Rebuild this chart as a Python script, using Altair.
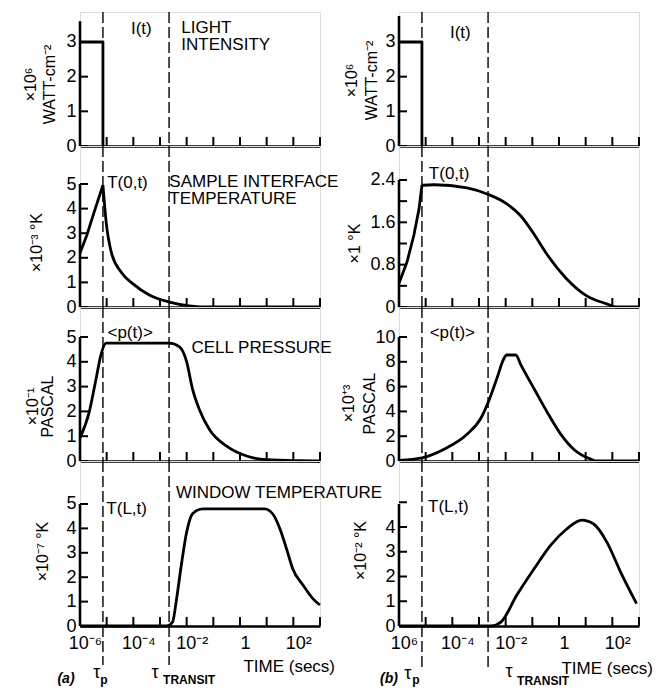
import altair as alt
import pandas as pd

FONT = "Liberation Sans"

# ---------------- shared time axis: log10(time / s) ----------------
decade_exps = [-6, -5, -4, -3, -2, -1, 0, 1, 2, 3]
xlabel_exps = [-6, -4, -2, 0, 2]
xlabel_text_a = ["10⁻⁶", "10⁻⁴", "10⁻²", "1", "10²"]
xlabel_text_b = ["10⁶", "10⁻⁴", "10⁻²", "1", "10²"]
tau_p_exp = -5.14
tau_transit_exp = -2.66

# ---------------- column (a) ----------------
a_I_exp = [-6.0, -5.14, -5.14]
a_I_val = [3.0, 3.0, 0.0]

a_T0_rise_exp = [-6.0, -5.74, -5.47, -5.14]
a_T0_rise_val = [2.2, 2.93, 3.86, 4.95]
a_T0_fall_exp = [-5.14, -5.02, -4.83, -4.46, -4.0, -3.4, -2.65, -1.9, -1.14, 3.0]
a_T0_fall_val = [4.95, 3.46, 2.24, 1.42, 0.93, 0.49, 0.2, 0.05, 0.0, 0.0]

a_p_exp = [-6.0, -5.66, -5.40, -5.21, -5.02, -3.78, -2.65, -2.27, -2.0, -1.78,
           -1.52, -1.14, -0.5, 0.25, 1.0, 2.25, 3.0]
a_p_val = [0.93, 1.95, 3.3, 4.3, 4.75, 4.75, 4.75, 4.6, 4.0, 2.9,
           2.07, 1.26, 0.6, 0.2, 0.05, 0.01, 0.0]

a_TL_exp = [-6.0, -2.76, -2.53, -2.38, -2.2, -2.0, -1.78, -1.40, 0.93, 1.23,
            1.50, 1.76, 1.98, 2.36, 2.74, 3.0]
a_TL_val = [0.0, 0.0, 0.16, 1.1, 2.5, 3.85, 4.6, 4.8, 4.8, 4.59,
            3.98, 3.11, 2.34, 1.68, 1.11, 0.86]

# ---------------- column (b) ----------------
b_I_exp = [-6.0, -5.14, -5.14]
b_I_val = [3.0, 3.0, 0.0]

b_T0_rise_exp = [-6.0, -5.7, -5.44, -5.25, -5.14]
b_T0_rise_val = [0.45, 0.85, 1.36, 1.85, 2.3]
b_T0_fall_exp = [-5.14, -4.69, -3.45, -2.67, -1.96, -1.43, -0.94, -0.46, 0.29,
                 1.04, 1.79, 2.16, 3.0]
b_T0_fall_val = [2.3, 2.31, 2.25, 2.13, 1.95, 1.72, 1.38, 1.0, 0.53,
                 0.21, 0.06, 0.0, 0.0]

b_p_exp = [-6.0, -5.14, -4.31, -3.45, -2.93, -2.67, -2.33, -2.07, -1.96, -1.62,
           -1.43, -0.94, -0.46, 0.07, 0.55, 1.19, 1.42, 3.0]
b_p_val = [0.05, 0.25, 0.95, 2.15, 3.45, 4.65, 6.65, 8.25, 8.55, 8.55,
           7.75, 5.85, 4.0, 2.15, 0.95, 0.15, 0.0, 0.0]

b_TL_exp = [-6.0, -2.55, -2.18, -1.58, -0.94, -0.31, 0.29, 0.85, 1.30, 1.79,
            2.31, 2.91]
b_TL_val = [0.0, 0.0, 0.16, 1.25, 2.3, 3.27, 3.92, 4.28, 4.12, 3.4,
            2.18, 0.9]

# ---------------- y axes: label values, tick values ----------------
y_labels_I = [0, 1, 2, 3]
y_ticks_I = [0, 1, 2, 3]
y_labels_5 = [0, 1, 2, 3, 4, 5]
y_labels_b_T0 = [0, 0.8, 1.6, 2.4]
y_ticks_b_T0 = [0, 0.4, 0.8, 1.2, 1.6, 2.0, 2.4]
y_labels_b_p = [0, 2, 4, 6, 8, 10]
y_labels_b_TL = [0, 1, 2, 3, 4]
y_ticks_b_TL = [0, 1, 2, 3, 4, 5]

# ---------------- layout (style) ----------------
W = 240
ROW_H = [134, 161, 154, 165]
BLACK = "black"


def secs(exps):
    return [10.0 ** e for e in exps]


def x_label_expr(texts):
    parts = [f"round(log(datum.value)/LN10) == {e} ? '{s}'" for e, s in zip(xlabel_exps, texts)]
    return " : ".join(parts) + " : ''"


def panel(h, ymax, axis_top, label_vals, tick_vals, title, title_x, title_y,
          curves, notes, bottom=None, label_expr=None, dash_bottom=None, title_lh=18):
    xs = alt.Scale(type="log", domain=[1e-6, 1e3], nice=False)
    ys = alt.Scale(domain=[0, ymax], nice=False, zero=False)
    common_x = dict(ticks=False, tickSize=0, grid=False, domain=True, domainWidth=2.6,
                    domainColor=BLACK, title=None)
    if bottom is not None:
        x_axis = alt.Axis(values=secs(xlabel_exps), labelExpr=x_label_expr(bottom["xlabels"]),
                          labelFontSize=18, labelFont=FONT, labelColor=BLACK, labelPadding=8,
                          labelOffset=5, labelFlush=False, labelOverlap=False, **common_x)
    else:
        x_axis = alt.Axis(labels=False, **common_x)
    y_kw = dict(values=label_vals, ticks=False, tickSize=0, domain=False, grid=False,
                labelFontSize=18, labelFont=FONT, labelColor=BLACK, labelPadding=4,
                labelFlush=False, labelOverlap=False,
                title=title, titleX=title_x, titleY=title_y, titleAngle=270,
                titleBaseline="middle", titleAlign="center", titleFontSize=16,
                titleFont=FONT, titleFontWeight="normal", titleColor=BLACK,
                titleLineHeight=title_lh)
    if label_expr:
        y_kw["labelExpr"] = label_expr
    y_axis = alt.Axis(**y_kw)
    X = alt.X("t:Q", scale=xs, axis=x_axis)
    Y = alt.Y("v:Q", scale=ys, axis=y_axis)

    layers = []
    for exps, vals, interp in curves:
        df = pd.DataFrame({"t": secs(exps), "v": vals})
        layers.append(alt.Chart(df).mark_line(interpolate=interp, color=BLACK, strokeWidth=2.8,
                                              strokeJoin="round").encode(x=X, y=Y))
    # y axis line
    layers.append(alt.Chart(pd.DataFrame({"v": [0.0], "v2": [axis_top]})).mark_rule(
        color=BLACK, strokeWidth=2.6).encode(x=alt.value(0), y=Y, y2="v2:Q"))
    # inward y ticks
    layers.append(alt.Chart(pd.DataFrame({"v": tick_vals})).mark_tick(
        color=BLACK, orient="horizontal", size=8, thickness=2, opacity=1).encode(
        y=Y, x=alt.value(4)))
    # inward x ticks
    layers.append(alt.Chart(pd.DataFrame({"t": secs(decade_exps)})).mark_tick(
        color=BLACK, orient="vertical", size=9, thickness=2, opacity=1).encode(
        x=X, y=alt.value(h - 4.5)))
    # dashed time markers
    db = h if dash_bottom is None else dash_bottom
    layers.append(alt.Chart(pd.DataFrame({"t": secs([tau_p_exp, tau_transit_exp])})).mark_rule(
        color=BLACK, strokeWidth=1.4, strokeDash=[11, 4]).encode(
        x=X, y=alt.value(0), y2=alt.value(db)))
    # annotations in data coordinates
    for align in ["center", "left"]:
        rows = [n for n in notes if n[3] == align]
        if rows:
            df = pd.DataFrame({"t": secs([r[0] for r in rows]), "v": [r[1] for r in rows],
                               "label": [r[2] for r in rows]})
            layers.append(alt.Chart(df).mark_text(align=align, baseline="middle", fontSize=17,
                                                  font=FONT, color=BLACK).encode(
                x=X, y=Y, text="label:N"))
    if bottom is not None:
        df = pd.DataFrame({"label": [bottom["tag"]]})
        layers.append(alt.Chart(df).mark_text(align="center", baseline="middle", fontSize=14,
                                              fontWeight="bold", fontStyle="italic", font=FONT,
                                              color=BLACK).encode(
            x=alt.value(bottom["tag_x"]), y=alt.value(h + 53), text="label:N"))
        df = pd.DataFrame({"label": ["TIME (secs)"]})
        layers.append(alt.Chart(df).mark_text(align="right", baseline="middle", fontSize=17,
                                              font=FONT, color=BLACK).encode(
            x=alt.value(bottom["time_x"]), y=alt.value(h + bottom["time_dy"]), text="label:N"))
        for exp, dx, dy, txt, size, weight, align in bottom["taus"]:
            df = pd.DataFrame({"t": secs([exp]), "label": [txt]})
            layers.append(alt.Chart(df).mark_text(align=align, baseline="middle", fontSize=size,
                                                  fontWeight=weight, font=FONT, color=BLACK,
                                                  dx=dx).encode(
                x=X, y=alt.value(h + dy), text="label:N"))
    return alt.layer(*layers).properties(width=W, height=h)


# ---------------- column (a) panels ----------------
pa1 = panel(ROW_H[0], 3.865, 3.6, y_labels_I, y_ticks_I, ["×10⁶", "WATT-cm⁻²"], -50, 72,
            [(a_I_exp, a_I_val, "linear")],
            [(-3.7, 3.37, "I(t)", "center"), (-2.2, 3.4, "LIGHT", "left"),
             (-2.2, 2.91, "INTENSITY", "left")], title_lh=19)
pa2 = panel(ROW_H[1], 6.545, 5, y_labels_5, y_labels_5, "×10⁻³ °K", -44, 96,
            [(a_T0_rise_exp, a_T0_rise_val, "linear"), (a_T0_fall_exp, a_T0_fall_val, "monotone")],
            [(-4.22, 5.04, "T(0,t)", "center"), (-2.65, 5.07, "SAMPLE INTERFACE", "left"),
             (-2.65, 4.38, "TEMPERATURE", "left")])
pa3 = panel(ROW_H[2], 6.21, 5, y_labels_5, y_labels_5, ["×10⁻¹", "PASCAL"], -48, 99,
            [(a_p_exp, a_p_val, "monotone")],
            [(-4.12, 5.16, "<p(t)>", "center"), (-1.82, 4.56, "CELL PRESSURE", "left")],
            title_lh=15)
pa4 = panel(ROW_H[3], 6.762, 5, y_labels_5, y_labels_5, "×10⁻⁷ °K", -38, 90,
            [(a_TL_exp, a_TL_val, "monotone")],
            [(-4.25, 4.8, "T(L,t)", "center"), (-2.4, 5.45, "WINDOW TEMPERATURE", "left")],
            bottom={"xlabels": xlabel_text_a, "tag": "(a)", "tag_x": -14, "time_x": 255,
                    "time_dy": 41,
                    "taus": [(tau_p_exp, -6, 47, "τ", 18, "normal", "center"),
                             (tau_p_exp, 1, 54, "p", 12, "bold", "center"),
                             (tau_transit_exp, -14, 47, "τ", 18, "normal", "center"),
                             (tau_transit_exp, -6, 54, "TRANSIT", 12, "bold", "left")]},
            dash_bottom=ROW_H[3] + 39)

# ---------------- column (b) panels ----------------
pb1 = panel(ROW_H[0], 3.865, 3.75, y_labels_I, y_ticks_I, ["×10⁶", "WATT-cm⁻²"], -48, 68,
            [(b_I_exp, b_I_val, "linear")],
            [(-3.7, 3.26, "I(t)", "center")], title_lh=20)
pb2 = panel(ROW_H[1], 3.042, 2.4, y_labels_b_T0, y_ticks_b_T0, "×1 °K", -45, 97,
            [(b_T0_rise_exp, b_T0_rise_val, "linear"), (b_T0_fall_exp, b_T0_fall_val, "monotone")],
            [(-4.12, 2.51, "T(0,t)", "center")],
            label_expr="datum.value == 0 ? '0' : format(datum.value, '.1f')")
pb3 = panel(ROW_H[2], 12.42, 10, y_labels_b_p, y_labels_b_p, ["×10⁺³", "PASCAL"], -51, 96,
            [(b_p_exp, b_p_val, "monotone")],
            [(-4.0, 10.3, "<p(t)>", "center")], title_lh=21)
pb4 = panel(ROW_H[3], 6.667, 4.93, y_labels_b_TL, y_ticks_b_TL, "×10⁻² °K", -39, 89,
            [(b_TL_exp, b_TL_val, "monotone")],
            [(-4.15, 4.8, "T(L,t)", "center")],
            bottom={"xlabels": xlabel_text_b, "tag": "(b)", "tag_x": -10, "time_x": 254,
                    "time_dy": 43,
                    "taus": [(tau_p_exp, -14, 48, "τ", 18, "normal", "center"),
                             (tau_p_exp, -6, 54, "p", 12, "bold", "center"),
                             (tau_transit_exp, 21, 46, "τ", 18, "normal", "center"),
                             (tau_transit_exp, 29, 55, "TRANSIT", 12, "bold", "left")]},
            dash_bottom=ROW_H[3] + 41)

chart = alt.concat(pa1, pb1, pa2, pb2, pa3, pb3, pa4, pb4, columns=2,
                   spacing={"row": 0, "column": 79}, bounds="flush").properties(
    padding={"left": 13, "top": 2, "right": 3, "bottom": 0}
).configure_view(stroke=None).configure(font=FONT)

chart.save("out.html", embed_options={"renderer": "svg", "actions": False})
